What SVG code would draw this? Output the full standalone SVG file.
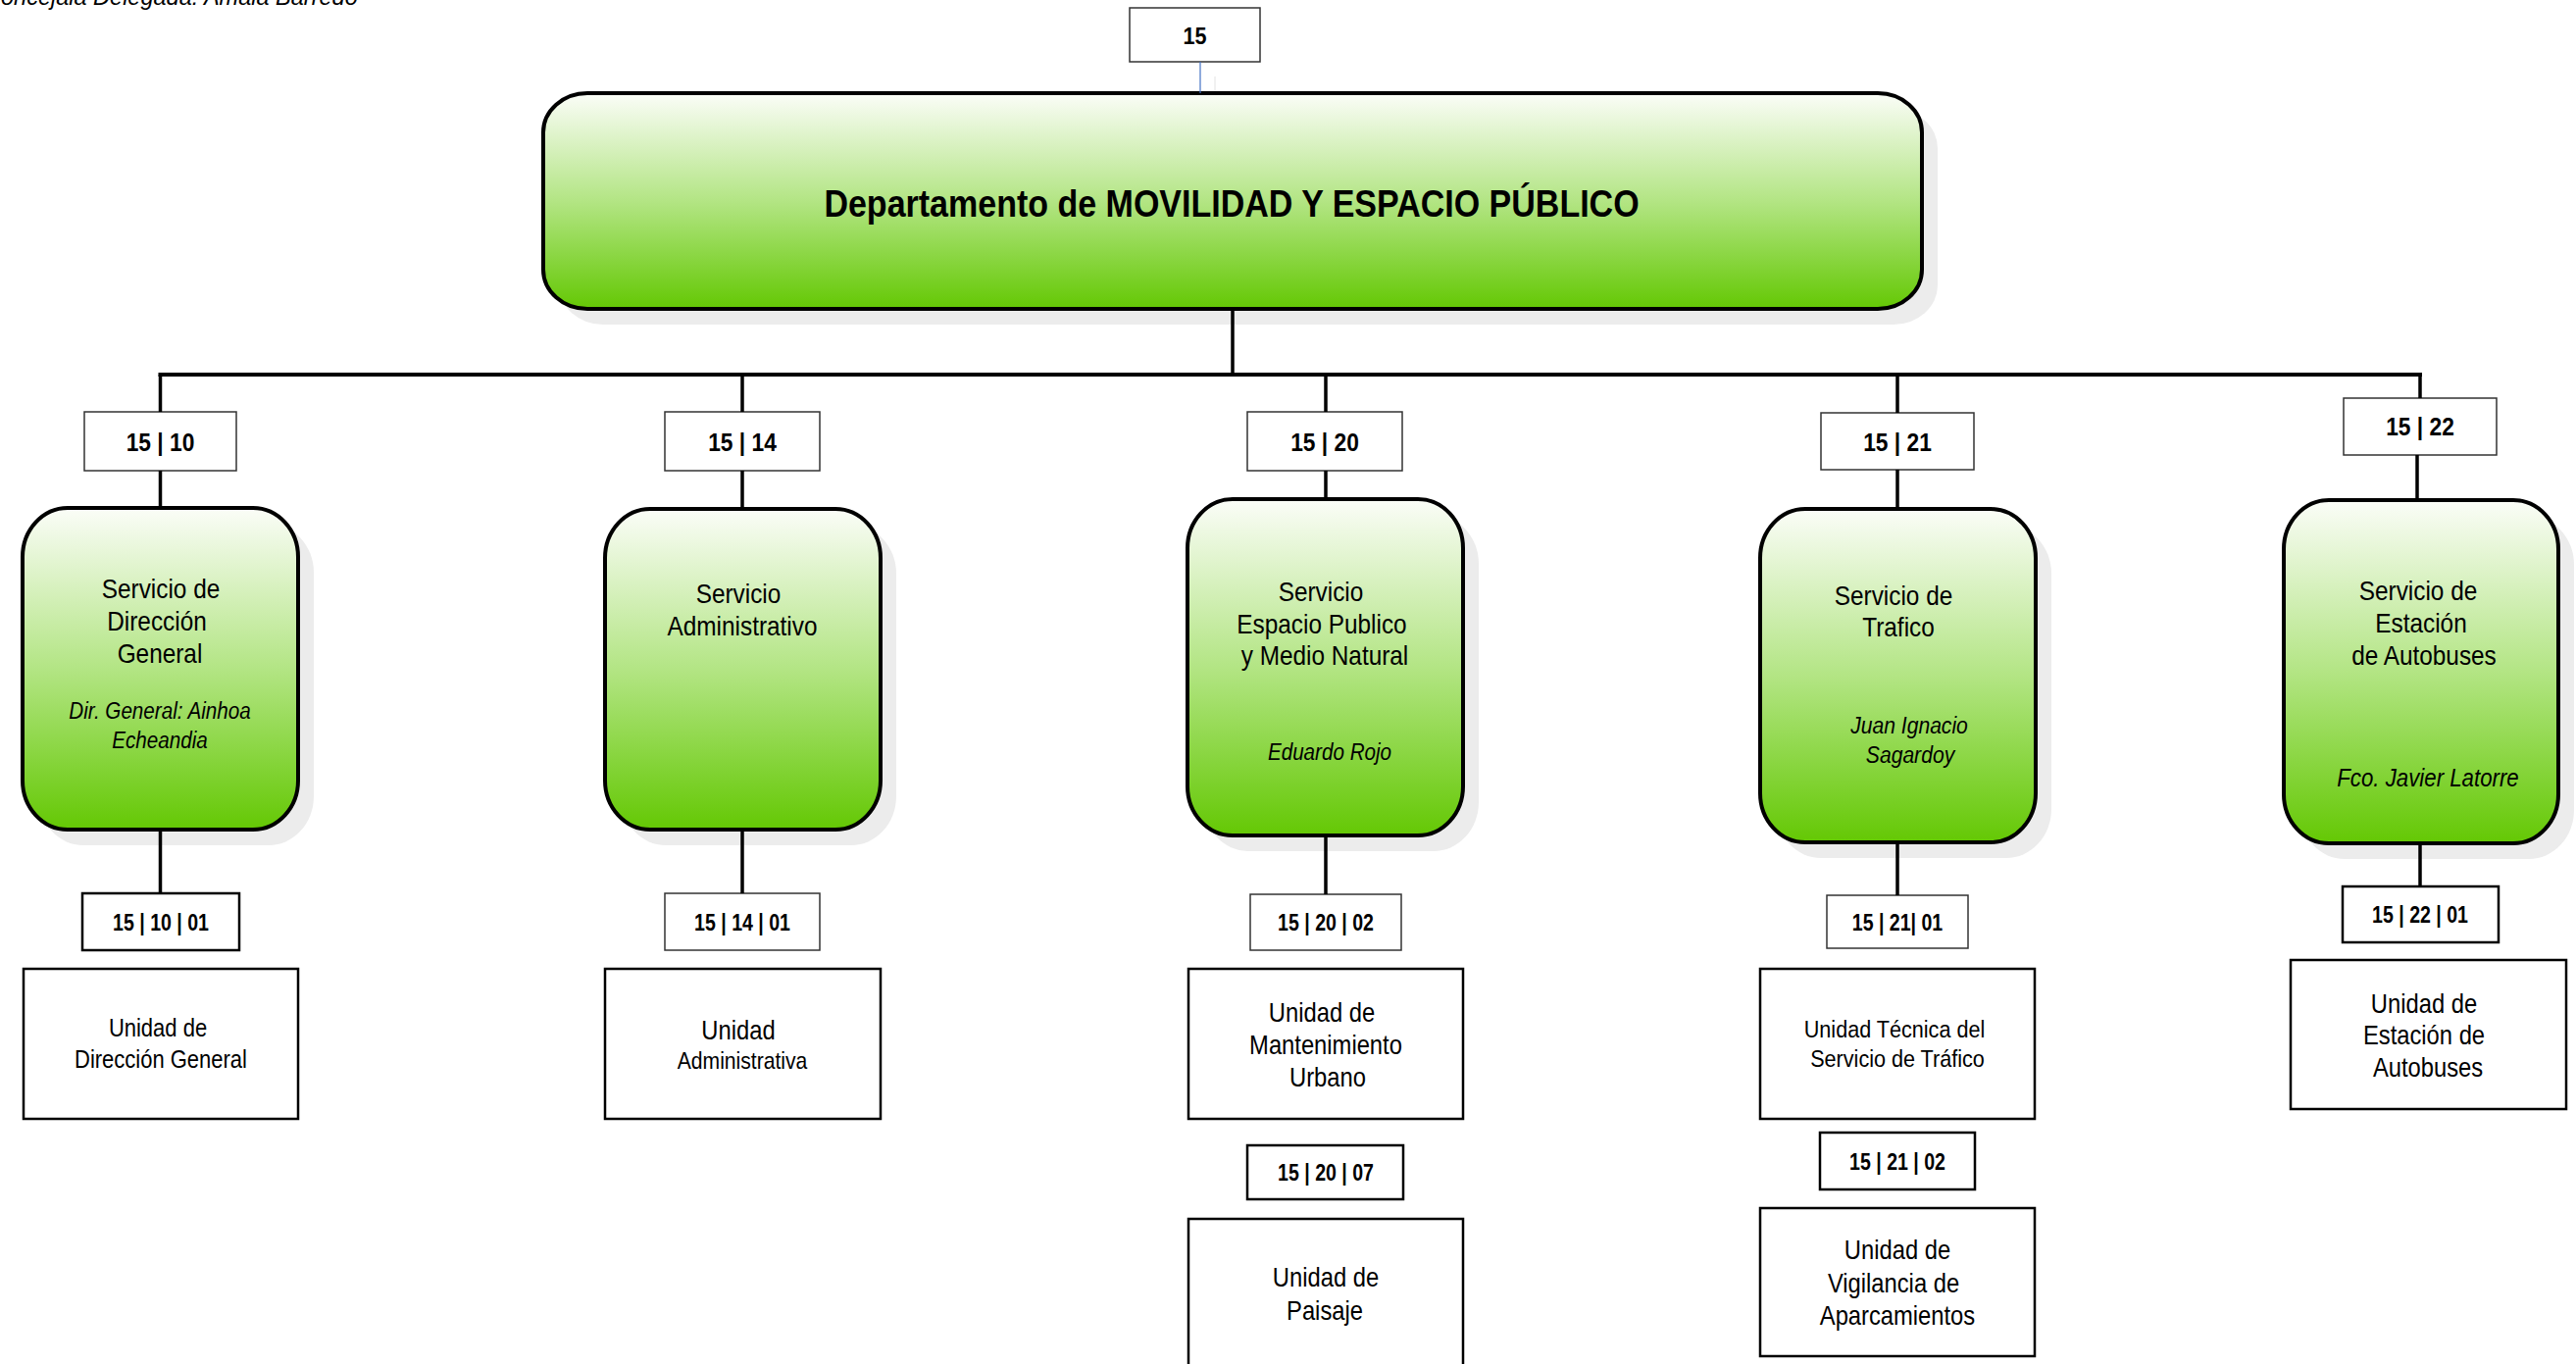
<svg xmlns="http://www.w3.org/2000/svg" width="2627" height="1391" viewBox="0 0 2627 1391">
<defs>
<linearGradient id="g" x1="0" y1="0" x2="0" y2="1">
<stop offset="0" stop-color="#fbfdf8"/>
<stop offset="0.5" stop-color="#b3e584"/>
<stop offset="1" stop-color="#64c804"/>
</linearGradient>
<style>
text{font-family:"Liberation Sans",Arial,sans-serif;fill:#000;text-anchor:middle}
.title{font-size:38px;font-weight:bold}
.c1{font-size:25px;font-weight:bold}
.c2{font-size:23px;font-weight:bold}
.sv{font-size:28px}
.it{font-size:24px;font-style:italic}
.u{font-size:27px}
.shadow{fill:#ececec}
.svc{fill:url(#g);stroke:#000;stroke-width:4}
.code{fill:#fff;stroke:#333;stroke-width:1.5}
.codeb{fill:#fff;stroke:#000;stroke-width:2.5}
.unit{fill:#fff;stroke:#000;stroke-width:2.5}
.con{stroke:#000;stroke-width:3.5;fill:none}
</style>
</defs>
<rect width="2627" height="1391" fill="#fff"/>
<text class="it" style="text-anchor:start" transform="matrix(0.98 0 0 1 -16 5)">Concejala Delegada: Amaia Barredo</text>

<g id="n15">
<rect class="code" x="1152" y="8" width="133" height="55"/>
<text class="c1" style="font-size:24px" transform="matrix(0.9 0 0 1 1218.5 45)">15</text>
</g>

<g id="dept">
<rect class="shadow" x="570" y="111" width="1406" height="220" rx="45" ry="40"/>
<rect class="svc" x="554" y="95" width="1406" height="220" rx="45" ry="40"/>
<text class="title" transform="matrix(0.895 0 0 1 1256 221)">Departamento de MOVILIDAD Y ESPACIO PÚBLICO</text>
</g>

<g id="c1510">
<rect class="code" x="86" y="420" width="155" height="60"/>
<text class="c1" transform="matrix(0.91 0 0 1 163.5 460)">15 | 10</text>
</g>
<g id="c1514">
<rect class="code" x="678" y="420" width="158" height="60"/>
<text class="c1" transform="matrix(0.91 0 0 1 757 460)">15 | 14</text>
</g>
<g id="c1520">
<rect class="code" x="1272" y="420" width="158" height="60"/>
<text class="c1" transform="matrix(0.91 0 0 1 1351 460)">15 | 20</text>
</g>
<g id="c1521">
<rect class="code" x="1857" y="421" width="156" height="58"/>
<text class="c1" transform="matrix(0.91 0 0 1 1935 460)">15 | 21</text>
</g>
<g id="c1522">
<rect class="code" x="2390" y="406" width="156" height="58"/>
<text class="c1" transform="matrix(0.91 0 0 1 2468 444)">15 | 22</text>
</g>

<g id="s1510">
<rect class="shadow" x="39" y="534" width="281" height="328" rx="46" ry="50"/>
<rect class="svc" x="23" y="518" width="281" height="328" rx="46" ry="50"/>
<text class="sv" transform="matrix(0.87 0 0 1 164 610)">Servicio de</text>
<text class="sv" transform="matrix(0.87 0 0 1 160 643)">Dirección</text>
<text class="sv" transform="matrix(0.87 0 0 1 163 676)">General</text>
<text class="it" transform="matrix(0.86 0 0 1 163 733)">Dir. General: Ainhoa</text>
<text class="it" transform="matrix(0.86 0 0 1 163 763)">Echeandia</text>
</g>
<g id="s1514">
<rect class="shadow" x="633" y="535" width="281" height="327" rx="46" ry="50"/>
<rect class="svc" x="617" y="519" width="281" height="327" rx="46" ry="50"/>
<text class="sv" transform="matrix(0.87 0 0 1 753 615)">Servicio</text>
<text class="sv" transform="matrix(0.87 0 0 1 757 648)">Administrativo</text>
</g>
<g id="s1520">
<rect class="shadow" x="1227" y="525" width="281" height="343" rx="46" ry="50"/>
<rect class="svc" x="1211" y="509" width="281" height="343" rx="46" ry="50"/>
<text class="sv" transform="matrix(0.87 0 0 1 1347 613)">Servicio</text>
<text class="sv" transform="matrix(0.87 0 0 1 1348 646)">Espacio Publico</text>
<text class="sv" transform="matrix(0.87 0 0 1 1351 678)">y Medio Natural</text>
<text class="it" transform="matrix(0.86 0 0 1 1356 775)">Eduardo Rojo</text>
</g>
<g id="s1521">
<rect class="shadow" x="1811" y="535" width="281" height="340" rx="46" ry="50"/>
<rect class="svc" x="1795" y="519" width="281" height="340" rx="46" ry="50"/>
<text class="sv" transform="matrix(0.87 0 0 1 1931 617)">Servicio de</text>
<text class="sv" transform="matrix(0.87 0 0 1 1936 649)">Trafico</text>
<text class="it" transform="matrix(0.88 0 0 1 1947 748)">Juan Ignacio</text>
<text class="it" transform="matrix(0.88 0 0 1 1948 778)">Sagardoy</text>
</g>
<g id="s1522">
<rect class="shadow" x="2345" y="526" width="280" height="350" rx="46" ry="50"/>
<rect class="svc" x="2329" y="510" width="280" height="350" rx="46" ry="50"/>
<text class="sv" transform="matrix(0.87 0 0 1 2466 612)">Servicio de</text>
<text class="sv" transform="matrix(0.87 0 0 1 2469 645)">Estación</text>
<text class="sv" transform="matrix(0.87 0 0 1 2472 678)">de Autobuses</text>
<text class="it" style="font-size:25px" transform="matrix(0.89 0 0 1 2476 802)">Fco. Javier Latorre</text>
</g>

<g id="c151001">
<rect class="codeb" x="84" y="911" width="160" height="58"/>
<text class="c2" transform="matrix(0.85 0 0 1 164 949)">15 | 10 | 01</text>
</g>
<g id="u151001">
<rect class="unit" x="24" y="988" width="280" height="153"/>
<text class="u" style="font-size:25px" transform="matrix(0.88 0 0 1 161 1057)">Unidad de</text>
<text class="u" style="font-size:25px" transform="matrix(0.88 0 0 1 164 1089)">Dirección General</text>
</g>
<g id="c151401">
<rect class="code" x="678" y="911" width="158" height="58"/>
<text class="c2" transform="matrix(0.85 0 0 1 757 949)">15 | 14 | 01</text>
</g>
<g id="u151401">
<rect class="unit" x="617" y="988" width="281" height="153"/>
<text class="u" transform="matrix(0.88 0 0 1 753 1060)">Unidad</text>
<text class="u" style="font-size:24px" transform="matrix(0.88 0 0 1 757 1090)">Administrativa</text>
</g>
<g id="c152002">
<rect class="code" x="1275" y="912" width="154" height="57"/>
<text class="c2" transform="matrix(0.85 0 0 1 1352 949)">15 | 20 | 02</text>
</g>
<g id="u152002">
<rect class="unit" x="1212" y="988" width="280" height="153"/>
<text class="u" transform="matrix(0.88 0 0 1 1348 1042)">Unidad de</text>
<text class="u" transform="matrix(0.88 0 0 1 1352 1075)">Mantenimiento</text>
<text class="u" transform="matrix(0.88 0 0 1 1354 1108)">Urbano</text>
</g>
<g id="c152007">
<rect class="codeb" x="1272" y="1168" width="159" height="55"/>
<text class="c2" transform="matrix(0.85 0 0 1 1352 1204)">15 | 20 | 07</text>
</g>
<g id="u152007">
<rect class="unit" x="1212" y="1243" width="280" height="180"/>
<text class="u" transform="matrix(0.88 0 0 1 1352 1312)">Unidad de</text>
<text class="u" transform="matrix(0.88 0 0 1 1351 1346)">Paisaje</text>
</g>
<g id="c152101">
<rect class="code" x="1863" y="913" width="144" height="54"/>
<text class="c2" transform="matrix(0.85 0 0 1 1935 949)">15 | 21| 01</text>
</g>
<g id="u152101">
<rect class="unit" x="1795" y="988" width="280" height="153"/>
<text class="u" style="font-size:24px" transform="matrix(0.9 0 0 1 1932 1058)">Unidad Técnica del</text>
<text class="u" style="font-size:24px" transform="matrix(0.9 0 0 1 1935 1088)">Servicio de Tráfico</text>
</g>
<g id="c152102">
<rect class="codeb" x="1856" y="1155" width="158" height="58"/>
<text class="c2" transform="matrix(0.85 0 0 1 1935 1193)">15 | 21 | 02</text>
</g>
<g id="u152102">
<rect class="unit" x="1795" y="1232" width="280" height="151"/>
<text class="u" transform="matrix(0.88 0 0 1 1935 1284)">Unidad de</text>
<text class="u" transform="matrix(0.88 0 0 1 1931 1318)">Vigilancia de</text>
<text class="u" transform="matrix(0.88 0 0 1 1935 1351)">Aparcamientos</text>
</g>
<g id="c152201">
<rect class="codeb" x="2389" y="904" width="159" height="57"/>
<text class="c2" transform="matrix(0.85 0 0 1 2468 941)">15 | 22 | 01</text>
</g>
<g id="u152201">
<rect class="unit" x="2336" y="979" width="281" height="152"/>
<text class="u" transform="matrix(0.88 0 0 1 2472 1033)">Unidad de</text>
<text class="u" transform="matrix(0.88 0 0 1 2472 1065)">Estación de</text>
<text class="u" transform="matrix(0.88 0 0 1 2476 1098)">Autobuses</text>
</g>

<g id="connectors">
<line x1="1224" y1="63" x2="1224" y2="95" stroke="#4472c4" stroke-width="1.2"/>
<line x1="1239" y1="78" x2="1239" y2="93" stroke="#e2e2e2" stroke-width="1"/>
<line class="con" x1="1257" y1="317" x2="1257" y2="382"/>
<line class="con" x1="161.5" y1="382" x2="2470" y2="382" style="stroke-width:4"/>
<line class="con" x1="163.5" y1="382" x2="163.5" y2="420"/>
<line class="con" x1="163.5" y1="480" x2="163.5" y2="516"/>
<line class="con" x1="757" y1="382" x2="757" y2="420"/>
<line class="con" x1="757" y1="480" x2="757" y2="517"/>
<line class="con" x1="1352" y1="382" x2="1352" y2="420"/>
<line class="con" x1="1352" y1="480" x2="1352" y2="507"/>
<line class="con" x1="1935" y1="382" x2="1935" y2="421"/>
<line class="con" x1="1935" y1="479" x2="1935" y2="517"/>
<line class="con" x1="2468" y1="380" x2="2468" y2="406"/>
<line class="con" x1="2465" y1="464" x2="2465" y2="508"/>
<line class="con" x1="163.5" y1="848" x2="163.5" y2="911"/>
<line class="con" x1="757" y1="848" x2="757" y2="911"/>
<line class="con" x1="1352" y1="854" x2="1352" y2="912"/>
<line class="con" x1="1935" y1="861" x2="1935" y2="913"/>
<line class="con" x1="2468" y1="862" x2="2468" y2="904"/>
</g>
</svg>
